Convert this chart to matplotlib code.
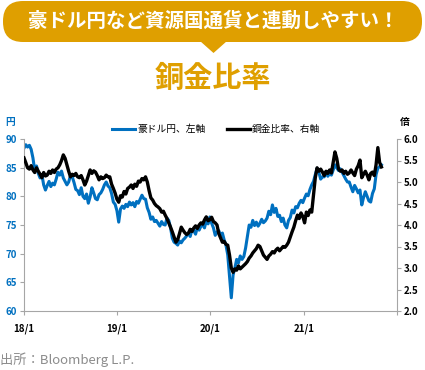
import matplotlib
matplotlib.use('Agg')
import matplotlib.pyplot as plt
import matplotlib.dates as mdates
from matplotlib.patches import FancyBboxPatch, Polygon
import pandas as pd

plt.rcParams['font.family'] = ['Noto Sans CJK JP', 'DejaVu Sans']

# weekly values, 2018/1 .. 2021/11
aud_jpy = [
    88.4, 89.0, 88.6, 88.9, 88.2, 86.7, 84.5, 85.3, 84.0, 83.2,
    83.8, 82.0, 81.1, 81.9, 82.6, 81.7, 82.3, 82.0, 83.0, 84.2,
    83.7, 84.4, 83.2, 82.6, 82.0, 82.5, 83.6, 83.4, 82.4, 81.2,
    81.0, 80.3, 81.5, 80.0, 79.6, 80.4, 78.8, 79.9, 81.5, 80.6,
    79.6, 79.4, 80.3, 80.6, 81.2, 82.0, 82.5, 81.8, 81.5, 80.5,
    79.0, 78.6, 77.5, 75.5, 77.8, 78.3, 77.9, 78.6, 78.2, 79.0,
    78.5, 78.9, 78.2, 79.1, 78.8, 79.5, 80.2, 79.6, 79.5, 78.0,
    77.2, 76.0, 76.4, 75.6, 75.8, 75.3, 74.8, 75.6, 75.1, 75.0,
    76.2, 75.8, 74.5, 72.7, 72.0, 71.8, 71.5, 72.2, 71.9, 72.4,
    72.7, 73.1, 73.6, 73.0, 74.2, 74.0, 73.4, 74.6, 74.1, 74.8,
    75.0, 74.5, 75.8, 75.2, 76.4, 75.3, 74.5, 73.2, 73.8, 74.0,
    73.2, 73.6, 72.4, 71.5, 69.8, 66.0, 62.3, 66.3, 67.5, 69.0,
    68.4, 69.6, 69.0, 69.5, 71.0, 73.0, 75.0, 74.6, 75.8, 74.9,
    75.5, 74.8, 75.3, 76.0, 75.4, 75.7, 76.2, 77.4, 76.8, 78.5,
    77.2, 77.9, 76.5, 76.7, 75.6, 76.2, 75.0, 74.5, 75.8, 76.3,
    77.6, 77.1, 78.2, 78.0, 78.8, 79.3, 78.9, 79.7, 80.4, 80.1,
    81.2, 82.0, 82.6, 83.8, 84.9, 84.2, 83.0, 83.4, 83.4, 84.3,
    83.5, 84.0, 83.7, 84.6, 85.5, 85.0, 84.5, 84.8, 84.2, 83.6,
    83.0, 82.5, 82.5, 81.6, 80.8, 81.9, 81.3, 80.6, 81.1, 78.5,
    79.8, 80.8, 80.0, 79.2, 79.0, 80.5, 81.3, 83.8, 84.9, 85.2, 85.5,
]

copper_gold = [
    5.56, 5.45, 5.33, 5.30, 5.38, 5.28, 5.22, 5.33, 5.25, 5.18,
    5.10, 5.22, 5.14, 5.16, 5.25, 5.20, 5.28, 5.22, 5.30, 5.33,
    5.40, 5.50, 5.63, 5.55, 5.40, 5.25, 5.12, 5.18, 5.15, 5.20,
    5.12, 5.10, 5.15, 5.05, 4.93, 5.02, 5.15, 5.28, 5.20, 5.26,
    5.23, 5.15, 5.05, 5.12, 5.08, 5.10, 5.16, 5.12, 5.12, 4.95,
    4.85, 4.74, 4.60, 4.53, 4.68, 4.65, 4.78, 4.72, 4.85, 4.88,
    4.93, 4.85, 4.95, 4.90, 5.02, 5.00, 5.08, 5.05, 5.12, 5.00,
    4.80, 4.63, 4.58, 4.50, 4.45, 4.42, 4.38, 4.30, 4.32, 4.23,
    4.15, 4.05, 3.95, 3.84, 3.72, 3.60, 3.66, 3.80, 3.95, 3.88,
    3.82, 3.78, 3.81, 3.90, 3.85, 3.93, 3.98, 3.92, 4.00, 4.05,
    4.02, 4.12, 4.19, 4.10, 4.12, 4.18, 4.08, 4.05, 4.00, 3.80,
    3.70, 3.60, 3.62, 3.55, 3.53, 3.30, 3.00, 2.90, 2.98, 2.95,
    3.05, 2.98, 3.02, 3.06, 3.10, 3.15, 3.23, 3.28, 3.35, 3.40,
    3.45, 3.53, 3.50, 3.40, 3.30, 3.25, 3.20, 3.28, 3.32, 3.38,
    3.35, 3.42, 3.46, 3.40, 3.45, 3.50, 3.48, 3.53, 3.60, 3.72,
    3.84, 3.95, 4.10, 4.23, 4.15, 4.28, 4.20, 4.05, 4.30, 4.22,
    4.35, 4.30, 4.70, 5.10, 5.33, 5.25, 5.30, 5.23, 5.15, 5.25,
    5.20, 5.28, 5.21, 5.45, 5.70, 5.55, 5.30, 5.25, 5.28, 5.20,
    5.25, 5.18, 5.21, 5.28, 5.21, 5.15, 5.30, 5.38, 5.51, 5.10,
    5.18, 5.25, 5.16, 5.05, 5.20, 5.23, 5.15, 5.40, 5.80, 5.45, 5.35,
]

dates = pd.date_range('2018-01-01', periods=len(aud_jpy), freq='7D')
x_ticks = pd.to_datetime(['2018-01-01', '2019-01-01', '2020-01-01', '2021-01-01'])
x_tick_labels = ['18/1', '19/1', '20/1', '21/1']
left_ticks = [60, 65, 70, 75, 80, 85, 90]
right_ticks = [2.0, 2.5, 3.0, 3.5, 4.0, 4.5, 5.0, 5.5, 6.0]

W, H = 425, 370
BLUE = '#0070C0'
GOLD = '#DF9F00'
GRAY = '#A6A6A6'

fig = plt.figure(figsize=(W / 100, H / 100), dpi=100)

# header drawn in pixel coords on an overlay
deco = fig.add_axes([0, 0, 1, 1])
deco.set_xlim(0, W)
deco.set_ylim(H, 0)
deco.axis('off')
deco.add_patch(FancyBboxPatch((3, 1), 419, 41, boxstyle='round,pad=0,rounding_size=20',
                              fc=GOLD, ec='none'))
deco.add_patch(Polygon([(200, 41), (227, 41), (213.5, 53)], closed=True, fc=GOLD, ec='none'))
deco.text(213, 21, '豪ドル円など資源国通貨と連動しやすい！', color='white', fontsize=14,
          fontweight='bold', ha='center', va='center')
deco.text(213, 78, '銅金比率', color=GOLD, fontsize=21, fontweight='bold',
          ha='center', va='center')
deco.text(0, 360, '出所：Bloomberg L.P.', color='#8C8C8C', fontsize=9.5,
          ha='left', va='center')
deco.text(10, 122, '円', color=BLUE, fontsize=7, fontweight='bold', ha='center', va='center')
deco.text(405, 122, '倍', color='black', fontsize=7, fontweight='bold', ha='center', va='center')

ax = fig.add_axes([24 / W, 1 - 311 / H, 373 / W, 172 / H])
ax2 = ax.twinx()

l1, = ax.plot(dates, aud_jpy, color=BLUE, lw=2.2, label='豪ドル円、左軸')
l2, = ax2.plot(dates, copper_gold, color='black', lw=2.4, label='銅金比率、右軸')

ax.set_xlim(pd.Timestamp('2018-01-01'), pd.Timestamp('2022-01-01'))
ax.set_ylim(60, 90)
ax2.set_ylim(2.0, 6.0)
ax.set_xticks(list(x_ticks) + [pd.Timestamp('2022-01-01')])
ax.set_xticklabels(x_tick_labels + [''])
ax.set_yticks(left_ticks)
ax2.set_yticks(right_ticks)
ax2.set_yticklabels([f'{v:.1f}' for v in right_ticks])

for a in (ax, ax2):
    a.patch.set_visible(False)
    a.spines['top'].set_visible(False)
    for s in ('left', 'right', 'bottom'):
        a.spines[s].set_color(GRAY)
ax.spines['right'].set_visible(False)
ax2.spines['left'].set_visible(False)
ax2.spines['bottom'].set_visible(False)

ax.tick_params(axis='x', colors=GRAY, labelcolor='black', labelsize=7, length=3, pad=6)
ax.tick_params(axis='y', colors=GRAY, labelcolor=BLUE, labelsize=7, length=3, pad=2)
ax2.tick_params(axis='y', colors=GRAY, labelcolor='black', labelsize=7, length=3, pad=2)
for lab in ax.get_xticklabels() + ax.get_yticklabels() + ax2.get_yticklabels():
    lab.set_fontweight('bold')

fig.legend(handles=[l1, l2], loc='center', bbox_to_anchor=(216 / W, 1 - 129 / H),
           ncol=2, frameon=False, fontsize=7, handlelength=2.4, handletextpad=0.2,
           columnspacing=2.2)

fig.savefig('out.png', dpi=100)
